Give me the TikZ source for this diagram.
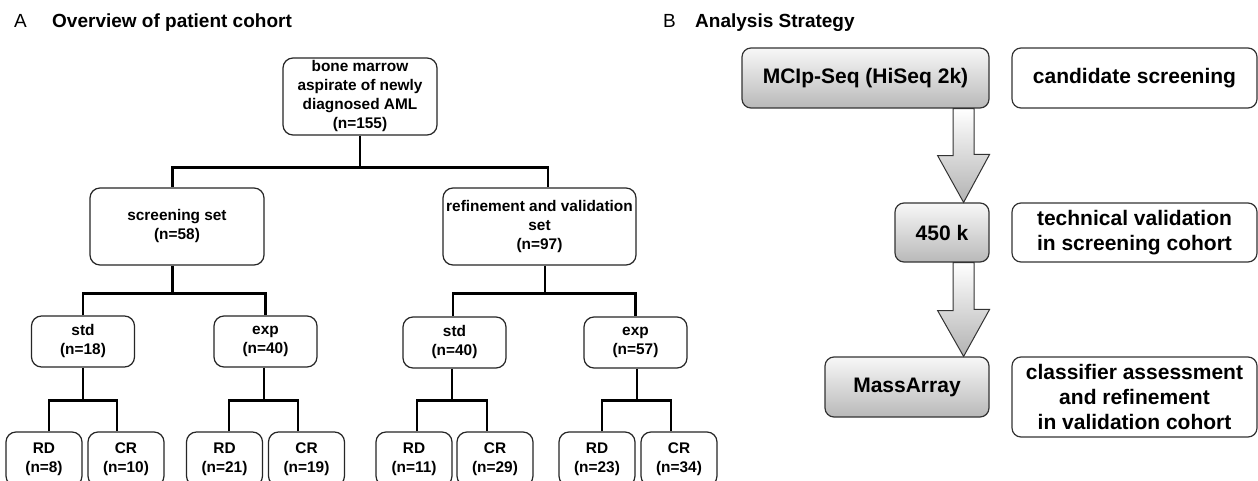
\documentclass[tikz,border=0pt]{standalone}
\usepackage{fontspec}
\setmainfont{Liberation Sans}
\usetikzlibrary{calc}
\newcommand\fA{\fontsize{15.4}{19}\selectfont\bfseries}
\newcommand\fB{\fontsize{21}{25}\selectfont\bfseries}
\newcommand\fT{\fontsize{19}{22}\selectfont}
\begin{document}
\begin{tikzpicture}[x=1pt,y=-1pt,
  boxA/.style={draw=black!85, line width=1.2pt, rounded corners=10pt, fill=white,
    align=center, inner sep=0pt, font=\fA},
  leafbox/.style={boxA, minimum width=76pt, minimum height=54pt},
  midbox/.style={boxA, minimum width=103pt, minimum height=51pt},
  boxB/.style={draw=black!80, line width=1.2pt, rounded corners=9pt,
    align=center, inner sep=0pt, font=\fB},
  shadedB/.style={boxB, top color=gray!6, bottom color=gray!55},
  plainB/.style={boxB, fill=white, minimum width=245pt},
  tree/.style={line width=2.8pt, black},
  arrowshade/.style={top color=white, bottom color=gray!60, draw=black!80, line width=1pt, line join=miter}
]
\clip (0,0) rectangle (1258,481);
\fill[white] (0,0) rectangle (1258,481);

% titles
\node[anchor=base west, inner sep=0pt, font=\fT] (tA) at (14,28) {A};
\node[anchor=base west, inner sep=0pt, font=\fT\bfseries] (tAt) at (52,28) {Overview of patient cohort};
\node[anchor=base west, inner sep=0pt, font=\fT] (tB) at (663,28) {B};
\node[anchor=base west, inner sep=0pt, font=\fT\bfseries] (tBt) at (695,28) {Analysis Strategy};

% panel A
\node[boxA, minimum width=154pt, minimum height=77pt] (root) at (360,96.5)
  {bone marrow\\aspirate of newly\\diagnosed AML\\(n=155)};
\node[boxA, minimum width=174pt, minimum height=77pt] (screen) at (177,226.5)
  {screening set\\(n=58)};
\node[boxA, minimum width=193pt, minimum height=77pt] (refine) at (539.5,226.5)
  {refinement and validation\\set\\(n=97)};

\node[midbox] (std1) at (83,341.5) {std\\(n=18)};
\node[midbox] (exp1) at (265.5,341.5) {exp\\(n=40)};
\node[midbox] (std2) at (454.5,342.5) {std\\(n=40)};
\node[midbox] (exp2) at (635.5,342.5) {exp\\(n=57)};

\node[leafbox] (rd1) at (44,459) {RD\\(n=8)};
\node[leafbox] (cr1) at (126,459) {CR\\(n=10)};
\node[leafbox] (rd2) at (224.5,459) {RD\\(n=21)};
\node[leafbox] (cr2) at (306.5,459) {CR\\(n=19)};
\node[leafbox] (rd3) at (414,459) {RD\\(n=11)};
\node[leafbox] (cr3) at (495,459) {CR\\(n=29)};
\node[leafbox] (rd4) at (597,459) {RD\\(n=23)};
\node[leafbox] (cr4) at (679,459) {CR\\(n=34)};

% tree connectors
\draw[tree] ([xshift=-4.5]screen.north) |- ($(root.south)+(0,32)$) -| ([xshift=8.5]refine.north);
\draw[tree] (root.south) -- ++(0,32);

\draw[tree] (std1.north) |- ($([xshift=-4.5]screen.south)+(0,28)$) -| (exp1.north);
\draw[tree] ([xshift=-4.5]screen.south) -- ++(0,28);
\draw[tree] ([xshift=-1.5]std2.north) |- ($([xshift=5.5]refine.south)+(0,28)$) -| (exp2.north);
\draw[tree] ([xshift=5.5]refine.south) -- ++(0,28);

\draw[tree] ([xshift=5]rd1.north) |- ($(std1.south)+(0,33)$) -| ([xshift=-9]cr1.north);
\draw[tree] (std1.south) -- ++(0,33);
\draw[tree] ([xshift=4.5]rd2.north) |- ($([xshift=-1.5]exp1.south)+(0,33)$) -| ([xshift=-8.5]cr2.north);
\draw[tree] ([xshift=-1.5]exp1.south) -- ++(0,33);
\draw[tree] ([xshift=3]rd3.north) |- ($([xshift=-2.5]std2.south)+(0,32)$) -| ([xshift=-8]cr3.north);
\draw[tree] ([xshift=-2.5]std2.south) -- ++(0,32);
\draw[tree] ([xshift=5]rd4.north) |- ($([xshift=1.5]exp2.south)+(0,32)$) -| ([xshift=-8]cr4.north);
\draw[tree] ([xshift=1.5]exp2.south) -- ++(0,32);

% panel B
\node[shadedB, minimum width=247pt, minimum height=60pt] (mcip) at (865.5,78) {MCIp-Seq (HiSeq 2k)};
\node[plainB, minimum height=60pt] (cand) at (1134.5,78) {candidate screening};
\node[shadedB, minimum width=94pt, minimum height=59pt] (k450) at (942,232.5) {450 k};
\node[plainB, minimum height=59pt] (tech) at (1134.5,232.5) {technical validation\\in screening cohort};
\node[shadedB, minimum width=164pt, minimum height=60pt] (mass) at (907,387) {MassArray};
\node[plainB, minimum height=80pt] (clas) at (1134.5,397) {classifier assessment\\and refinement\\in validation cohort};

\coordinate (a1s) at ([xshift=-26]mcip.south east);
\coordinate (a1e) at ([xshift=-26]k450.north east);
\coordinate (a2s) at ([xshift=-26]k450.south east);
\coordinate (a2e) at ([xshift=-26]mass.north east);

\path[arrowshade] ($(a1s)+(-10.5,0)$) -- ++(0,47) -- ++(-15.5,0) -- (a1e)
  -- ++(26,-48) -- ++(-15.5,0) -- ($(a1s)+(10.5,0)$) -- cycle;
\path[arrowshade] ($(a2s)+(-10.5,0)$) -- ++(0,48) -- ++(-15.5,0) -- (a2e)
  -- ++(26,-47) -- ++(-15.5,0) -- ($(a2s)+(10.5,0)$) -- cycle;
\end{tikzpicture}
\end{document}
